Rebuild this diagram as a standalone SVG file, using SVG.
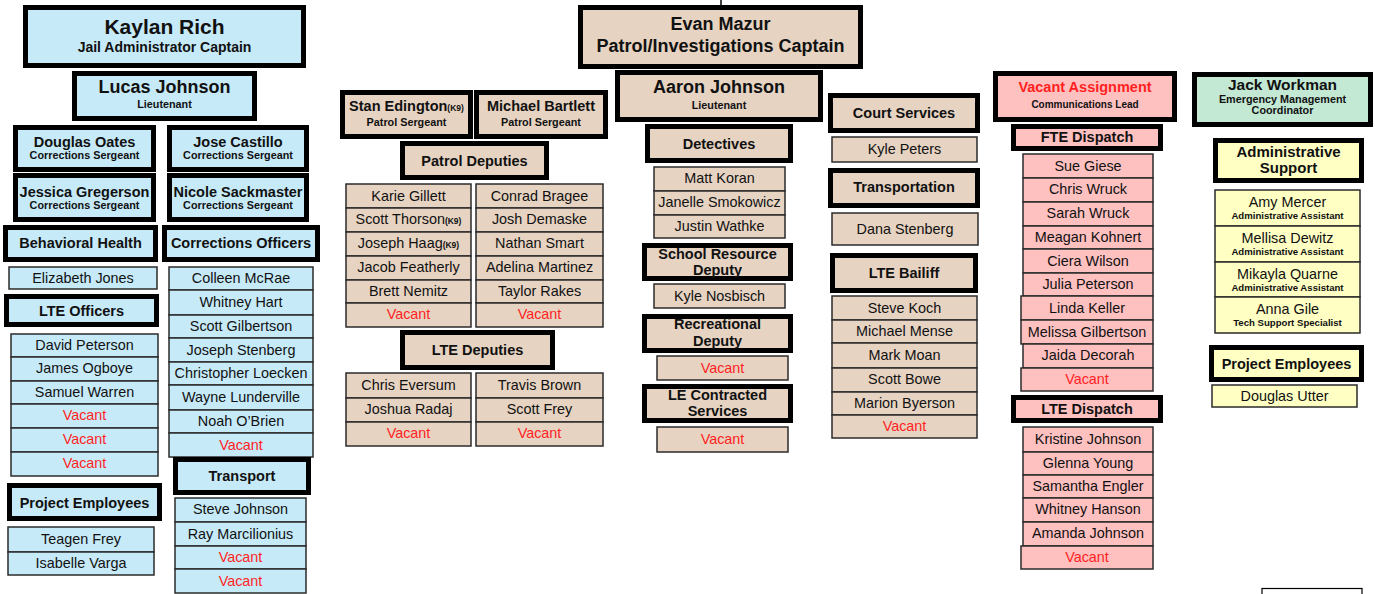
<svg xmlns="http://www.w3.org/2000/svg" width="1375" height="594" viewBox="0 0 1375 594">
<style>
text{font-family:"Liberation Sans",Arial,sans-serif;fill:#111;text-anchor:middle}
.h{stroke:#000;stroke-width:5}
.t{stroke:#2b2b2b;stroke-width:1.5}
.b{fill:#c6eaf8}.k{fill:#e6d3c1}.p{fill:#ffc0c0}.g{fill:#c3e9d5}.y{fill:#ffffc4}
.n{font-size:14.4px}
.hd{font-size:14.5px;font-weight:bold}
.s{font-size:10.8px;font-weight:bold}
.a{font-size:9.6px;font-weight:bold}
.v{fill:#ff1f1f}
.k9{font-size:8.5px;font-weight:bold}
.c{stroke:#000;stroke-width:1.5;fill:none}
</style>
<rect width="1375" height="594" fill="#fff"/>
<g id="connectors">
<line class="c" x1="721" y1="0" x2="721" y2="6"/>
</g>
<rect x="1262" y="588.5" width="100" height="20" fill="#fff" stroke="#000" stroke-width="1.2"/>

<!-- Jail side (blue) -->
<g id="kaylan-rich"><rect class="h b" x="25.5" y="7.5" width="278" height="58"/>
<text x="164.5" y="34" style="font-size:21px;font-weight:bold">Kaylan Rich</text>
<text x="164.5" y="52" style="font-size:14px;font-weight:bold">Jail Administrator Captain</text></g>
<g id="lucas-johnson"><rect class="h b" x="74.5" y="73.5" width="180" height="45"/>
<text x="164.5" y="93" style="font-size:18px;font-weight:bold">Lucas Johnson</text>
<text x="164.5" y="108" class="s">Lieutenant</text></g>
<g id="douglas-oates"><rect class="h b" x="15.5" y="127.5" width="138" height="42"/>
<text x="84.5" y="147" class="hd">Douglas Oates</text><text x="84.5" y="158.5" class="s">Corrections Sergeant</text></g>
<g id="jose-castillo"><rect class="h b" x="169.5" y="127.5" width="137" height="42"/>
<text x="238" y="147" class="hd">Jose Castillo</text><text x="238" y="158.5" class="s">Corrections Sergeant</text></g>
<g id="jessica-gregerson"><rect class="h b" x="15.5" y="175.5" width="138" height="44"/>
<text x="84.5" y="197" class="hd">Jessica Gregerson</text><text x="84.5" y="208.5" class="s">Corrections Sergeant</text></g>
<g id="nicole-sackmaster"><rect class="h b" x="169.5" y="175.5" width="137" height="44"/>
<text x="238" y="197" class="hd">Nicole Sackmaster</text><text x="238" y="208.5" class="s">Corrections Sergeant</text></g>
<g id="behavioral-health"><rect class="h b" x="5.5" y="227.5" width="150" height="32"/>
<text x="80.5" y="247.5" class="hd">Behavioral Health</text></g>
<g id="corrections-officers"><rect class="h b" x="164.5" y="227.5" width="153" height="32"/>
<text x="241" y="247.5" class="hd">Corrections Officers</text></g>
<g id="elizabeth-jones"><rect class="t b" x="9" y="267" width="148" height="22"/>
<text x="83" y="282.5" class="n">Elizabeth Jones</text></g>
<g id="lte-officers"><rect class="h b" x="6.5" y="296.5" width="150" height="28"/>
<text x="81.5" y="315.5" class="hd">LTE Officers</text></g>
<g id="lte-officers-list">
<rect class="t b" x="11" y="334" width="147" height="23"/><rect class="t b" x="11" y="357" width="147" height="24"/><rect class="t b" x="11" y="381" width="147" height="23"/>
<rect class="t b" x="11" y="404" width="147" height="24"/><rect class="t b" x="11" y="428" width="147" height="24"/><rect class="t b" x="11" y="452" width="147" height="24"/>
<text x="84.5" y="349.5" class="n">David Peterson</text><text x="84.5" y="373" class="n">James Ogboye</text><text x="84.5" y="396.5" class="n">Samuel Warren</text>
<text x="84.5" y="420" class="n v">Vacant</text><text x="84.5" y="444" class="n v">Vacant</text><text x="84.5" y="468" class="n v">Vacant</text></g>
<g id="corrections-officers-list">
<rect class="t b" x="169" y="267" width="144" height="23"/><rect class="t b" x="169" y="290" width="144" height="25"/><rect class="t b" x="169" y="315" width="144" height="23"/>
<rect class="t b" x="169" y="338" width="144" height="24"/><rect class="t b" x="169" y="362" width="144" height="23"/><rect class="t b" x="169" y="385" width="144" height="25"/>
<rect class="t b" x="169" y="410" width="144" height="23"/><rect class="t b" x="169" y="433" width="144" height="24"/>
<text x="241" y="283" class="n">Colleen McRae</text><text x="241" y="307" class="n">Whitney Hart</text><text x="241" y="331" class="n">Scott Gilbertson</text>
<text x="241" y="355" class="n">Joseph Stenberg</text><text x="241" y="378" class="n">Christopher Loecken</text><text x="241" y="402" class="n">Wayne Lunderville</text>
<text x="241" y="425.5" class="n">Noah O’Brien</text><text x="241" y="449.5" class="n v">Vacant</text></g>
<g id="transport"><rect class="h b" x="175.5" y="459.5" width="133" height="33"/>
<text x="242" y="481" class="hd">Transport</text></g>
<g id="transport-list">
<rect class="t b" x="175" y="498" width="131" height="24"/><rect class="t b" x="175" y="522" width="131" height="24"/><rect class="t b" x="175" y="546" width="131" height="23"/><rect class="t b" x="175" y="569" width="131" height="24"/>
<text x="240.5" y="514" class="n">Steve Johnson</text><text x="240.5" y="538.5" class="n">Ray Marcilionius</text><text x="240.5" y="562" class="n v">Vacant</text><text x="240.5" y="585.5" class="n v">Vacant</text></g>
<g id="project-employees-jail"><rect class="h b" x="9.5" y="485.5" width="150" height="33"/>
<text x="84.5" y="507.5" class="hd">Project Employees</text></g>
<g id="project-employees-jail-list">
<rect class="t b" x="8" y="527" width="146" height="25"/><rect class="t b" x="8" y="552" width="146" height="23"/>
<text x="81" y="544" class="n">Teagen Frey</text><text x="81" y="567.5" class="n">Isabelle Varga</text></g>

<!-- Patrol side (tan) -->
<g id="evan-mazur"><rect class="h k" x="580.5" y="7.5" width="280" height="59"/>
<text x="720.5" y="30" style="font-size:18px;font-weight:bold">Evan Mazur</text>
<text x="720.5" y="52" style="font-size:18px;font-weight:bold">Patrol/Investigations Captain</text></g>
<g id="aaron-johnson"><rect class="h k" x="617.5" y="72.5" width="203" height="47"/>
<text x="719" y="93" style="font-size:18px;font-weight:bold">Aaron Johnson</text>
<text x="719" y="109" class="s">Lieutenant</text></g>
<g id="stan-edington"><rect class="h k" x="342.5" y="92.5" width="128" height="44"/>
<text x="406.5" y="110.5" class="hd">Stan Edington<tspan class="k9">(K9)</tspan></text>
<text x="406.5" y="125.5" class="s">Patrol Sergeant</text></g>
<g id="michael-bartlett"><rect class="h k" x="476.5" y="92.5" width="129" height="44"/>
<text x="541" y="110.5" class="hd">Michael Bartlett</text>
<text x="541" y="125.5" class="s">Patrol Sergeant</text></g>
<g id="patrol-deputies"><rect class="h k" x="402.5" y="143.5" width="144" height="34"/>
<text x="474.5" y="165.5" class="hd">Patrol Deputies</text></g>
<g id="patrol-deputies-list">
<rect class="t k" x="346" y="184" width="125" height="24"/><rect class="t k" x="346" y="208" width="125" height="24"/><rect class="t k" x="346" y="232" width="125" height="24"/>
<rect class="t k" x="346" y="256" width="125" height="24"/><rect class="t k" x="346" y="280" width="125" height="23"/><rect class="t k" x="346" y="303" width="125" height="24"/>
<rect class="t k" x="476" y="184" width="127" height="24"/><rect class="t k" x="476" y="208" width="127" height="24"/><rect class="t k" x="476" y="232" width="127" height="24"/>
<rect class="t k" x="476" y="256" width="127" height="24"/><rect class="t k" x="476" y="280" width="127" height="23"/><rect class="t k" x="476" y="303" width="127" height="24"/>
<text x="408.5" y="200.5" class="n">Karie Gillett</text><text x="408.5" y="224" class="n">Scott Thorson<tspan class="k9">(K9)</tspan></text><text x="408.5" y="248" class="n">Joseph Haag<tspan class="k9">(K9)</tspan></text>
<text x="408.5" y="272" class="n">Jacob Featherly</text><text x="408.5" y="296" class="n">Brett Nemitz</text><text x="408.5" y="319" class="n v">Vacant</text>
<text x="539.5" y="200.5" class="n">Conrad Bragee</text><text x="539.5" y="224" class="n">Josh Demaske</text><text x="539.5" y="248" class="n">Nathan Smart</text>
<text x="539.5" y="272" class="n">Adelina Martinez</text><text x="539.5" y="296" class="n">Taylor Rakes</text><text x="539.5" y="319" class="n v">Vacant</text></g>
<g id="lte-deputies"><rect class="h k" x="402.5" y="332.5" width="150" height="35"/>
<text x="477.5" y="354.5" class="hd">LTE Deputies</text></g>
<g id="lte-deputies-list">
<rect class="t k" x="346" y="373" width="125" height="25"/><rect class="t k" x="346" y="398" width="125" height="24"/><rect class="t k" x="346" y="422" width="125" height="24"/>
<rect class="t k" x="476" y="373" width="127" height="25"/><rect class="t k" x="476" y="398" width="127" height="24"/><rect class="t k" x="476" y="422" width="127" height="24"/>
<text x="408.5" y="390" class="n">Chris Eversum</text><text x="408.5" y="414" class="n">Joshua Radaj</text><text x="408.5" y="438" class="n v">Vacant</text>
<text x="539.5" y="390" class="n">Travis Brown</text><text x="539.5" y="414" class="n">Scott Frey</text><text x="539.5" y="438" class="n v">Vacant</text></g>
<g id="detectives"><rect class="h k" x="647.5" y="126.5" width="143" height="34"/>
<text x="719" y="148.5" class="hd">Detectives</text></g>
<g id="detectives-list">
<rect class="t k" x="654" y="167" width="131" height="24"/><rect class="t k" x="654" y="191" width="131" height="24"/><rect class="t k" x="654" y="215" width="131" height="23"/>
<text x="719.5" y="183" class="n">Matt Koran</text><text x="719.5" y="207" class="n">Janelle Smokowicz</text><text x="719.5" y="230.5" class="n">Justin Wathke</text></g>
<g id="school-resource-deputy"><rect class="h k" x="644.5" y="245.5" width="146" height="33"/>
<text x="717.5" y="258.5" class="hd">School Resource</text><text x="717.5" y="274.5" class="hd">Deputy</text></g>
<g id="kyle-nosbisch"><rect class="t k" x="654" y="284" width="131" height="24"/>
<text x="719.5" y="300.5" class="n">Kyle Nosbisch</text></g>
<g id="recreational-deputy"><rect class="h k" x="644.5" y="316.5" width="146" height="34"/>
<text x="717.5" y="329" class="hd">Recreational</text><text x="717.5" y="345.5" class="hd">Deputy</text></g>
<g id="recreational-vacant"><rect class="t k" x="657" y="356" width="131" height="24"/>
<text x="722.5" y="372.5" class="n v">Vacant</text></g>
<g id="le-contracted-services"><rect class="h k" x="644.5" y="386.5" width="146" height="34"/>
<text x="717.5" y="399.5" class="hd">LE Contracted</text><text x="717.5" y="415.5" class="hd">Services</text></g>
<g id="le-contracted-vacant"><rect class="t k" x="657" y="427" width="131" height="25"/>
<text x="722.5" y="444" class="n v">Vacant</text></g>
<g id="court-services"><rect class="h k" x="830.5" y="95.5" width="147" height="35"/>
<text x="904" y="118" class="hd">Court Services</text></g>
<g id="kyle-peters"><rect class="t k" x="832" y="137" width="145" height="25"/>
<text x="904.5" y="154" class="n">Kyle Peters</text></g>
<g id="transportation"><rect class="h k" x="830.5" y="170.5" width="147" height="35"/>
<text x="904" y="191.5" class="hd">Transportation</text></g>
<g id="dana-stenberg"><rect class="t k" x="832" y="213" width="146" height="32"/>
<text x="905" y="234" class="n">Dana Stenberg</text></g>
<g id="lte-bailiff"><rect class="h k" x="832.5" y="255.5" width="143" height="35"/>
<text x="904" y="278" class="hd">LTE Bailiff</text></g>
<g id="lte-bailiff-list">
<rect class="t k" x="832" y="296" width="145" height="24"/><rect class="t k" x="832" y="320" width="145" height="23"/><rect class="t k" x="832" y="343" width="145" height="25"/>
<rect class="t k" x="832" y="368" width="145" height="24"/><rect class="t k" x="832" y="392" width="145" height="23"/><rect class="t k" x="832" y="415" width="145" height="23"/>
<text x="904.5" y="312.5" class="n">Steve Koch</text><text x="904.5" y="336" class="n">Michael Mense</text><text x="904.5" y="360" class="n">Mark Moan</text>
<text x="904.5" y="384" class="n">Scott Bowe</text><text x="904.5" y="408" class="n">Marion Byerson</text><text x="904.5" y="431" class="n v">Vacant</text></g>

<!-- Dispatch (pink) -->
<g id="vacant-assignment"><rect class="h p" x="995.5" y="73.5" width="179" height="46"/>
<text x="1085" y="92" class="hd v">Vacant Assignment</text>
<text x="1085" y="107.5" style="font-size:10px;font-weight:bold">Communications Lead</text></g>
<g id="fte-dispatch"><rect class="h p" x="1013.5" y="126.5" width="147" height="22"/>
<text x="1087" y="142" class="hd">FTE Dispatch</text></g>
<g id="fte-dispatch-list">
<rect class="t p" x="1023" y="154" width="130" height="24"/><rect class="t p" x="1023" y="178" width="130" height="24"/><rect class="t p" x="1023" y="202" width="130" height="24"/>
<rect class="t p" x="1023" y="226" width="130" height="23"/><rect class="t p" x="1023" y="249" width="130" height="24"/><rect class="t p" x="1023" y="273" width="130" height="23"/>
<rect class="t p" x="1021" y="296" width="132" height="24"/><rect class="t p" x="1021" y="320" width="132" height="24"/><rect class="t p" x="1023" y="344" width="130" height="24"/>
<rect class="t p" x="1021" y="368" width="132" height="23"/>
<text x="1088" y="170.5" class="n">Sue Giese</text><text x="1088" y="194" class="n">Chris Wruck</text><text x="1088" y="218" class="n">Sarah Wruck</text>
<text x="1088" y="242" class="n">Meagan Kohnert</text><text x="1088" y="265.5" class="n">Ciera Wilson</text><text x="1088" y="289" class="n">Julia Peterson</text>
<text x="1087" y="312.5" class="n">Linda Keller</text><text x="1087" y="336.5" class="n">Melissa Gilbertson</text><text x="1088" y="360" class="n">Jaida Decorah</text>
<text x="1087" y="383.5" class="n v">Vacant</text></g>
<g id="lte-dispatch"><rect class="h p" x="1013.5" y="397.5" width="147" height="23"/>
<text x="1087" y="414" class="hd">LTE Dispatch</text></g>
<g id="lte-dispatch-list">
<rect class="t p" x="1023" y="427" width="130" height="25"/><rect class="t p" x="1023" y="452" width="130" height="23"/><rect class="t p" x="1023" y="475" width="130" height="23"/>
<rect class="t p" x="1023" y="498" width="130" height="24"/><rect class="t p" x="1023" y="522" width="130" height="24"/><rect class="t p" x="1021" y="546" width="132" height="23"/>
<text x="1088" y="443.5" class="n">Kristine Johnson</text><text x="1088" y="467.5" class="n">Glenna Young</text><text x="1088" y="491" class="n">Samantha Engler</text>
<text x="1088" y="514" class="n">Whitney Hanson</text><text x="1088" y="538" class="n">Amanda Johnson</text><text x="1087" y="561.5" class="n v">Vacant</text></g>

<!-- Emergency management / admin -->
<g id="jack-workman"><rect class="h g" x="1194.5" y="74.5" width="176" height="50"/>
<text x="1282.5" y="89.5" style="font-size:15.5px;font-weight:bold">Jack Workman</text>
<text x="1282.5" y="102.5" class="s">Emergency Management</text>
<text x="1282.5" y="114" class="s">Coordinator</text></g>
<g id="administrative-support"><rect class="h y" x="1215.5" y="140.5" width="146" height="40"/>
<text x="1288.5" y="156.5" style="font-size:15px;font-weight:bold">Administrative</text>
<text x="1288.5" y="173" style="font-size:15px;font-weight:bold">Support</text></g>
<g id="administrative-support-list">
<rect class="t y" x="1215" y="190" width="145" height="36"/><rect class="t y" x="1215" y="226" width="145" height="36"/>
<rect class="t y" x="1215" y="262" width="145" height="35"/><rect class="t y" x="1215" y="297" width="145" height="36"/>
<text x="1287.5" y="207" class="n">Amy Mercer</text><text x="1287.5" y="219" class="a">Administrative Assistant</text>
<text x="1287.5" y="243" class="n">Mellisa Dewitz</text><text x="1287.5" y="255" class="a">Administrative Assistant</text>
<text x="1287.5" y="279" class="n">Mikayla Quarne</text><text x="1287.5" y="291" class="a">Administrative Assistant</text>
<text x="1287.5" y="314" class="n">Anna Gile</text><text x="1287.5" y="326" class="a">Tech Support Specialist</text></g>
<g id="project-employees-admin"><rect class="h y" x="1211.5" y="347.5" width="150" height="32"/>
<text x="1286.5" y="368.5" class="hd">Project Employees</text></g>
<g id="douglas-utter"><rect class="t y" x="1212" y="385" width="145" height="22"/>
<text x="1284.5" y="401" class="n">Douglas Utter</text></g>
</svg>
